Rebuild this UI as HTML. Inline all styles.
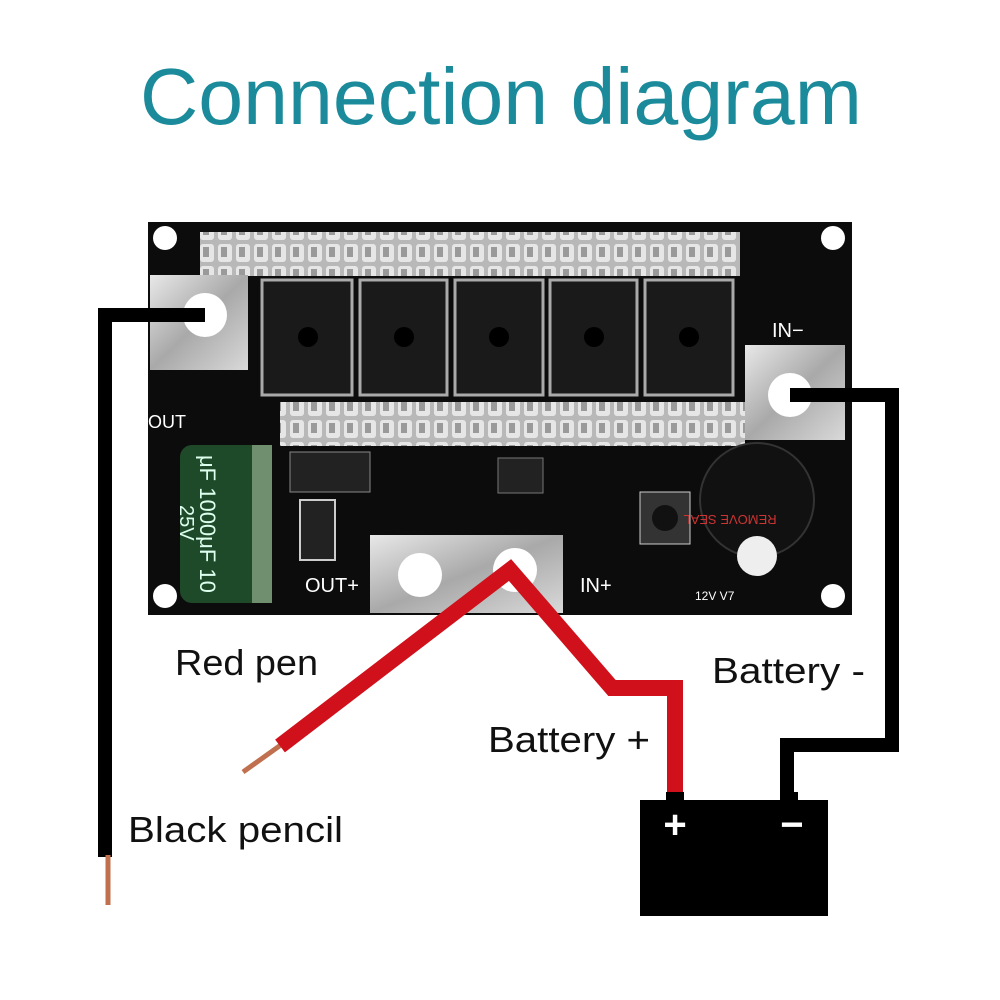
<!DOCTYPE html>
<html><head><meta charset="utf-8"><style>
html,body{margin:0;padding:0;background:#fff;}
svg{display:block}
text{font-family:"Liberation Sans",sans-serif}
</style></head><body>
<svg width="1000" height="1000" viewBox="0 0 1000 1000" xmlns="http://www.w3.org/2000/svg">
<defs>
<linearGradient id="sil" x1="0" y1="0" x2="1" y2="1">
<stop offset="0" stop-color="#e8e8e8"/><stop offset="0.5" stop-color="#a9a9a9"/><stop offset="1" stop-color="#d9d9d9"/></linearGradient>
<pattern id="hs" width="18" height="22" patternUnits="userSpaceOnUse">
<rect width="18" height="22" fill="#b8b8b8"/><rect x="2" y="2" width="14" height="18" rx="3" fill="#e6e6e6"/><rect x="5" y="5" width="6" height="10" fill="#9a9a9a"/></pattern>
</defs>
<rect width="1000" height="1000" fill="#fff"/>
<text x="140" y="124" font-size="80" fill="#1b8b9b" textLength="722" lengthAdjust="spacingAndGlyphs">Connection diagram</text>
<!-- board -->
<rect x="148" y="222" width="704" height="393" fill="#0c0c0c"/>
<circle cx="165" cy="238" r="12" fill="#fff"/><circle cx="833" cy="238" r="12" fill="#fff"/>
<circle cx="165" cy="596" r="12" fill="#fff"/><circle cx="833" cy="596" r="12" fill="#fff"/>
<rect x="200" y="232" width="540" height="44" fill="url(#hs)"/>
<rect x="280" y="402" width="465" height="44" fill="url(#hs)"/>
<g fill="#1a1a1a" stroke="#aaa" stroke-width="3">
<rect x="262" y="280" width="90" height="115"/><rect x="360" y="280" width="87" height="115"/><rect x="455" y="280" width="88" height="115"/><rect x="550" y="280" width="87" height="115"/><rect x="645" y="280" width="88" height="115"/></g>
<g fill="#000"><circle cx="308" cy="337" r="10"/><circle cx="404" cy="337" r="10"/><circle cx="499" cy="337" r="10"/><circle cx="594" cy="337" r="10"/><circle cx="689" cy="337" r="10"/></g>
<rect x="150" y="275" width="98" height="95" fill="url(#sil)"/>
<circle cx="205" cy="315" r="22" fill="#fff"/>
<rect x="745" y="345" width="100" height="95" fill="url(#sil)"/>
<circle cx="790" cy="395" r="22" fill="#fff"/>
<rect x="370" y="535" width="193" height="78" fill="url(#sil)"/>
<circle cx="420" cy="575" r="22" fill="#fff"/><circle cx="515" cy="570" r="22" fill="#fff"/>
<text x="772" y="337" font-size="20" fill="#fff">IN−</text>
<text x="148" y="428" font-size="18" fill="#fff">OUT</text>
<text x="305" y="592" font-size="20" fill="#fff">OUT+</text>
<text x="580" y="592" font-size="20" fill="#fff">IN+</text>
<text x="695" y="600" font-size="12" fill="#fff">12V  V7</text>
<rect x="290" y="452" width="80" height="40" fill="#222" stroke="#888"/>
<rect x="498" y="458" width="45" height="35" fill="#222" stroke="#777"/>
<rect x="300" y="500" width="35" height="60" fill="#222" stroke="#ccc" stroke-width="2"/>
<rect x="640" y="492" width="50" height="52" fill="#333" stroke="#ccc"/><circle cx="665" cy="518" r="13" fill="#111"/>
<circle cx="757" cy="500" r="57" fill="#111" stroke="#333" stroke-width="2"/>
<circle cx="757" cy="556" r="20" fill="#eee"/>
<text x="790" y="485" font-size="13" fill="#c33" transform="rotate(180 760 500)" text-anchor="middle">REMOVE SEAL</text>
<rect x="180" y="445" width="92" height="158" rx="12" fill="#1f4a2a"/>
<rect x="252" y="445" width="20" height="158" fill="#6f8f6f"/>
<text x="0" y="0" font-size="22" fill="#dfe" transform="translate(200 455) rotate(90)">μF 1000μF 10</text>
<text x="0" y="0" font-size="20" fill="#dfe" transform="translate(180 505) rotate(90)">25V</text>
<!-- wires -->
<polyline points="205,315 105,315 105,857" fill="none" stroke="#000" stroke-width="14"/>
<line x1="108" y1="855" x2="108" y2="905" stroke="#c0704f" stroke-width="5"/>
<line x1="243" y1="772" x2="285" y2="742" stroke="#c0704f" stroke-width="5"/>
<polyline points="280,746 510,570 612,688 675,688 675,795" fill="none" stroke="#d0101a" stroke-width="16" stroke-linejoin="miter"/>
<polyline points="790,395 892,395 892,745 787,745 787,795" fill="none" stroke="#000" stroke-width="14"/>
<!-- battery -->
<rect x="666" y="792" width="18" height="12" fill="#000"/><rect x="780" y="792" width="18" height="12" fill="#000"/>
<rect x="640" y="800" width="188" height="116" fill="#000"/>
<text x="675" y="838" font-size="40" fill="#fff" text-anchor="middle" font-weight="bold">+</text>
<text x="792" y="838" font-size="40" fill="#fff" text-anchor="middle" font-weight="bold">−</text>
<!-- labels -->
<text x="175" y="675" font-size="36" fill="#111" textLength="143" lengthAdjust="spacingAndGlyphs">Red pen</text>
<text x="712" y="683" font-size="36" fill="#111" textLength="153" lengthAdjust="spacingAndGlyphs">Battery -</text>
<text x="488" y="752" font-size="36" fill="#111" textLength="162" lengthAdjust="spacingAndGlyphs">Battery +</text>
<text x="128" y="842" font-size="36" fill="#111" textLength="215" lengthAdjust="spacingAndGlyphs">Black pencil</text>
</svg>
</body></html>
